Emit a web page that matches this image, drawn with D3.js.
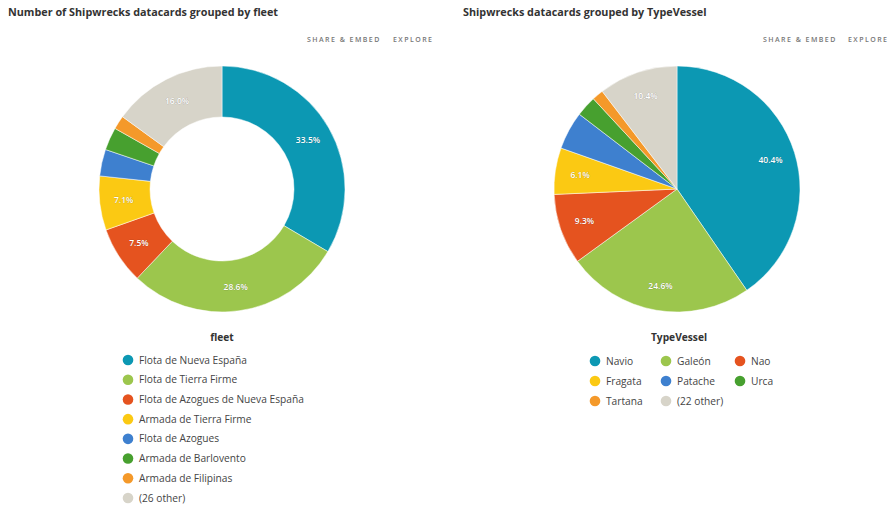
<!DOCTYPE html>
<html><head><meta charset="utf-8">
<script src="https://cdn.jsdelivr.net/npm/d3@7"></script>
<style>
body{margin:0;background:#fff;}
svg{display:block;font-family:"Open Sans",sans-serif;}
</style></head>
<body><svg id="c" width="893" height="507"></svg>
<script>
const fleetCategories = ["Flota de Nueva España","Flota de Tierra Firme","Flota de Azogues de Nueva España","Armada de Tierra Firme","Flota de Azogues","Armada de Barlovento","Armada de Filipinas","(26 other)"];
const fleetValues = [33.5, 28.6, 7.5, 7.1, 3.5, 3.0, 1.8, 15.0];
const fleetLabels = ["33.5%","28.6%","7.5%","7.1%","","","","16.0%"];

const vesselCategories = ["Navio","Galeón","Nao","Fragata","Patache","Urca","Tartana","(22 other)"];
const vesselValues = [40.4, 24.6, 9.3, 6.1, 5.0, 2.7, 1.5, 10.4];
const vesselLabels = ["40.4%","24.6%","9.3%","6.1%","","","","10.4%"];

const palette = ["#0c98b3","#9cc64d","#e5531f","#fbc913","#3e80cf","#47a02f","#f4992a","#d7d4c9"];

const svg = d3.select("#c");

function header(x, title, shareX, exploreX){
  svg.append("text").attr("x", x).attr("y", 16).attr("font-size", 10.8).attr("font-weight", 700)
    .attr("fill", "#333").text(title);
  svg.append("text").attr("x", shareX).attr("y", 42).attr("font-size", 7).attr("font-weight", 600)
    .attr("letter-spacing", 1.45).attr("fill", "#777").text("SHARE & EMBED");
  svg.append("text").attr("x", exploreX).attr("y", 42).attr("font-size", 7).attr("font-weight", 600)
    .attr("letter-spacing", 1.45).attr("fill", "#777").text("EXPLORE");
}

function pie(cx, cy, R, r, values, labels, labelR){
  const g = svg.append("g").attr("transform", `translate(${cx},${cy})`);
  const arcs = d3.pie().sort(null).value(d => d)(values);
  const arc = d3.arc().innerRadius(r).outerRadius(R);
  g.selectAll("path").data(arcs).join("path").attr("d", arc)
    .attr("fill", (d, i) => palette[i]).attr("stroke", "#fff").attr("stroke-width", 0.5);
  const la = d3.arc().innerRadius(labelR).outerRadius(labelR);
  g.selectAll("text.lbl").data(arcs).join("text").attr("class", "lbl")
    .attr("transform", d => `translate(${la.centroid(d)})`)
    .attr("text-anchor", "middle").attr("dy", "0.35em")
    .attr("font-size", 8.5).attr("font-weight", 600).attr("fill", "#fff")
    .attr("stroke", "rgba(0,0,0,0.25)").attr("stroke-width", 0.6).attr("paint-order", "stroke")
    .text((d, i) => labels[i]);
}

header(8, "Number of Shipwrecks datacards grouped by fleet", 307, 393);
header(463, "Shipwrecks datacards grouped by TypeVessel", 763, 848);

pie(222, 189, 123, 72, fleetValues, fleetLabels, 99);
pie(677, 189, 123, 0, vesselValues, vesselLabels, 98);

// left legend
svg.append("text").attr("x", 222).attr("y", 341).attr("text-anchor", "middle")
  .attr("font-size", 10.2).attr("font-weight", 700).attr("fill", "#333").text("fleet");
const ly = d3.scalePoint().domain(fleetCategories).range([360, 498]);
const lg = svg.append("g");
lg.selectAll("circle").data(fleetCategories).join("circle")
  .attr("cx", 128).attr("cy", d => ly(d)).attr("r", 5.3).attr("fill", (d, i) => palette[i]);
lg.selectAll("text").data(fleetCategories).join("text")
  .attr("x", 139).attr("y", d => ly(d)).attr("dy", "0.35em")
  .attr("font-size", 10.2).attr("fill", "#444").text(d => d);

// right legend
svg.append("text").attr("x", 679).attr("y", 341).attr("text-anchor", "middle")
  .attr("font-size", 10.2).attr("font-weight", 700).attr("fill", "#333").text("TypeVessel");
const colX = [595, 666, 740];
const rowY = [361, 381, 401];
const rg = svg.append("g");
rg.selectAll("circle").data(vesselCategories).join("circle")
  .attr("cx", (d, i) => colX[i % 3]).attr("cy", (d, i) => rowY[Math.floor(i / 3)])
  .attr("r", 5.3).attr("fill", (d, i) => palette[i]);
rg.selectAll("text").data(vesselCategories).join("text")
  .attr("x", (d, i) => colX[i % 3] + 11).attr("y", (d, i) => rowY[Math.floor(i / 3)]).attr("dy", "0.35em")
  .attr("font-size", 10.2).attr("fill", "#444").text(d => d);
</script></body></html>
